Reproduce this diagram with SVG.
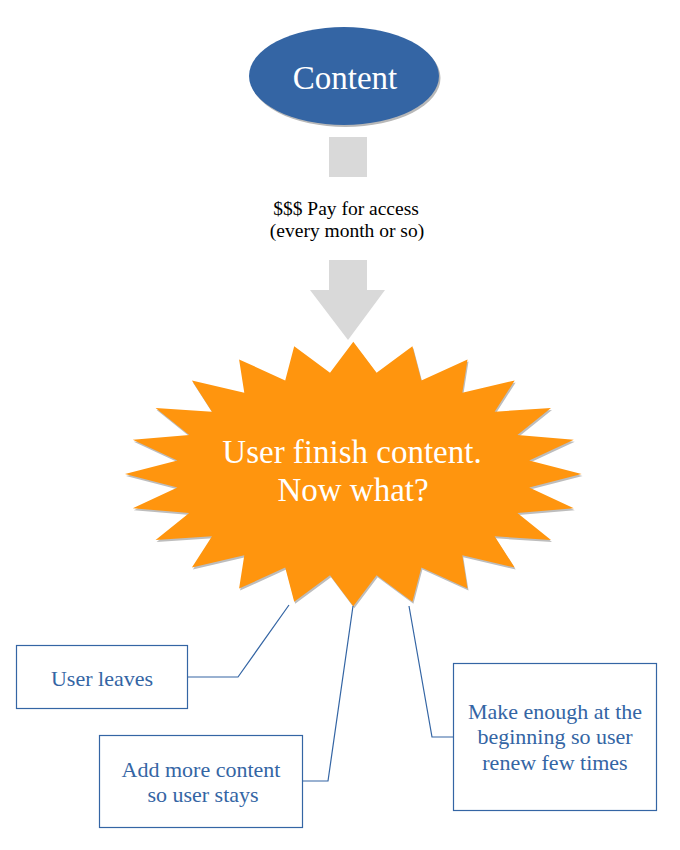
<svg xmlns="http://www.w3.org/2000/svg" width="680" height="850" viewBox="0 0 680 850">
<defs>
<style>
.serif{font-family:"Liberation Serif","Times New Roman",serif;}
.box{fill:#ffffff;stroke:#3465a4;stroke-width:1.2;}
.boxtxt{fill:#3465a4;font-size:22px;text-anchor:middle;}
.conn{fill:none;stroke:#3465a4;stroke-width:1.2;}
.gray{fill:#d9d9d9;}
</style>
</defs>
<rect width="680" height="850" fill="#ffffff"/>

<g id="content">
<ellipse cx="345.5" cy="78" rx="95" ry="49" fill="#b8b8b8"/>
<ellipse cx="344" cy="76" rx="95" ry="49" fill="#3465a4"/>
<text class="serif" x="345" y="89" font-size="33" fill="#ffffff" text-anchor="middle">Content</text>
</g>

<g id="pay">
<rect class="gray" x="329" y="137" width="38" height="40"/>
<text class="serif" x="346" y="215" font-size="19.5" fill="#000000" text-anchor="middle">$$$ Pay for access</text>
<text class="serif" x="347" y="237" font-size="19.5" fill="#000000" text-anchor="middle">(every month or so)</text>
<polygon class="gray" points="329,260 367,260 367,290 385,290 348,340 310,290 329,290"/>
</g>

<g id="burst">
<polygon fill="#bdbdbd" transform="translate(1,2)" points="353.3,341.7 376.6,372.8 412.4,346.2 421.4,380.4 467.5,359.4 462.3,392.7 514.7,380.5 494.6,411.7 551.0,407.9 517.4,435.0 573.8,439.8 529.2,460.6 581.6,474.0 529.2,487.4 573.8,508.2 517.4,513.0 551.0,540.1 494.6,536.3 514.7,567.5 462.3,555.3 467.5,588.6 421.4,567.6 412.4,601.8 376.6,575.2 353.3,606.3 330.0,575.2 294.2,601.8 285.2,567.6 239.1,588.6 244.3,555.3 191.9,567.5 212.0,536.3 155.6,540.1 189.2,513.0 132.8,508.2 177.4,487.4 125.0,474.0 177.4,460.6 132.8,439.8 189.2,435.0 155.6,407.9 212.0,411.7 191.9,380.5 244.3,392.7 239.1,359.4 285.2,380.4 294.2,346.2 330.0,372.8"/>
<polygon fill="#ff950e" points="353.3,341.7 376.6,372.8 412.4,346.2 421.4,380.4 467.5,359.4 462.3,392.7 514.7,380.5 494.6,411.7 551.0,407.9 517.4,435.0 573.8,439.8 529.2,460.6 581.6,474.0 529.2,487.4 573.8,508.2 517.4,513.0 551.0,540.1 494.6,536.3 514.7,567.5 462.3,555.3 467.5,588.6 421.4,567.6 412.4,601.8 376.6,575.2 353.3,606.3 330.0,575.2 294.2,601.8 285.2,567.6 239.1,588.6 244.3,555.3 191.9,567.5 212.0,536.3 155.6,540.1 189.2,513.0 132.8,508.2 177.4,487.4 125.0,474.0 177.4,460.6 132.8,439.8 189.2,435.0 155.6,407.9 212.0,411.7 191.9,380.5 244.3,392.7 239.1,359.4 285.2,380.4 294.2,346.2 330.0,372.8"/>
<text class="serif" x="352" y="463" font-size="33" fill="#ffffff" text-anchor="middle">User finish content.</text>
<text class="serif" x="353" y="501" font-size="33" fill="#ffffff" text-anchor="middle">Now what?</text>
</g>

<g id="connectors">
<polyline class="conn" points="187,677 238,677 289,605"/>
<polyline class="conn" points="302,781 328,781 353,606"/>
<polyline class="conn" points="453,737 432,737 409,606"/>
</g>

<g id="leaves">
<rect class="box" x="16.5" y="645.5" width="171" height="63"/>
<text class="serif boxtxt" x="102" y="686">User leaves</text>
</g>

<g id="addmore">
<rect class="box" x="99.5" y="735.5" width="203" height="92"/>
<text class="serif boxtxt" x="201" y="777">Add more content</text>
<text class="serif boxtxt" x="203" y="802">so user stays</text>
</g>

<g id="makeenough">
<rect class="box" x="453.5" y="663.5" width="203" height="147"/>
<text class="serif boxtxt" x="555" y="719">Make enough at the</text>
<text class="serif boxtxt" x="555" y="744">beginning so user</text>
<text class="serif boxtxt" x="555" y="770">renew few times</text>
</g>
</svg>
